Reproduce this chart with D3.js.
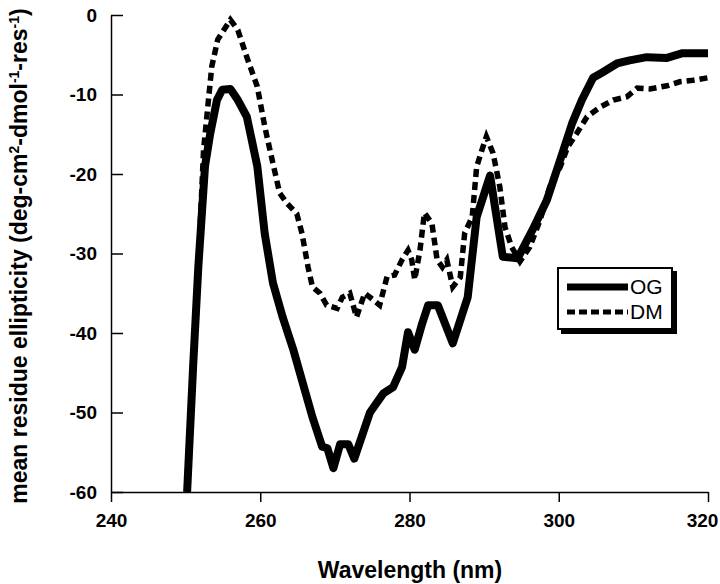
<!DOCTYPE html>
<html>
<head>
<meta charset="utf-8">
<script src="https://cdn.jsdelivr.net/npm/d3@7"></script>
<style>
    body { margin: 0; background: #fff; }
    svg text { font-family: 'Liberation Sans', Arial, sans-serif; fill: #000; }
</style>
</head>
<body>
<div id="chart"></div>
<script>
// values
const ogWavelength = [250.2, 251, 251.7, 252.6, 253.3, 254.2, 254.9, 256, 257, 258.2, 259.6, 260.6, 261.7, 263, 264.4, 265.7, 267, 268.3, 269, 269.8, 270.7, 271.8, 272.6, 274.7, 276.5, 277.8, 279, 279.8, 280.7, 281.7, 282.5, 283.8, 285.8, 287.8, 288.5, 289, 290.8, 292.5, 294.5, 296.5, 298.4, 300.2, 301.8, 303.1, 304.6, 305.9, 307.8, 309.5, 311.8, 314.5, 316.6, 320]
const ogEllipticity = [-60, -44.3, -31.7, -19, -14.9, -10.7, -9.4, -9.3, -10.7, -12.8, -19, -27.5, -33.7, -38, -42, -46.3, -50.6, -54.3, -54.5, -57, -54, -54, -55.8, -50, -47.6, -46.8, -44.3, -39.9, -42.1, -38.8, -36.5, -36.5, -41.3, -35.5, -29.6, -25.4, -20.2, -30.4, -30.6, -27, -23.3, -18.2, -13.6, -10.7, -7.9, -7.2, -6.1, -5.7, -5.3, -5.4, -4.8, -4.8]

const dmWavelength = [251.5, 252.4, 253.5, 254.3, 256, 257, 258.2, 259.6, 260.6, 261.3, 262, 262.6, 263.6, 264.9, 265.6, 266.4, 267, 268, 268.9, 270.3, 271, 272, 272.9, 274, 275.1, 276, 277, 278, 279, 279.8, 280.3, 280.7, 281.4, 282, 283, 283.7, 284.4, 285, 285.8, 286.8, 287.4, 288.4, 289, 289.7, 290.3, 291.2, 292.1, 292.8, 293.7, 294.8, 296.1, 297.5, 298.8, 300.2, 301.2, 302.4, 303.8, 305.5, 307.3, 309.1, 310.5, 312.2, 314.5, 316.2, 318, 320]
const dmEllipticity = [-36, -17, -6.5, -3.1, -0.6, -1.9, -5.3, -9, -14, -17, -19.9, -22.4, -23.7, -25, -27.5, -31.7, -34.2, -35, -36.5, -36.9, -35.5, -35, -38, -35, -35.8, -36.5, -32.9, -32.7, -30.8, -29.6, -30.8, -33.3, -29.6, -24.9, -26.2, -30.8, -31.7, -30.8, -34.2, -33, -27.4, -25.4, -19.1, -17, -15.3, -17.4, -21.6, -26.7, -29.2, -31, -29.2, -25.8, -21.6, -19.1, -16.6, -14.9, -12.8, -11.6, -10.7, -10.3, -9.2, -9.3, -8.9, -8.4, -8.2, -7.9]

const xTicks = [240, 260, 280, 300, 320]
const yTicks = [0, -10, -20, -30, -40, -50, -60]
const seriesNames = ['OG', 'DM']

const width = 720, height = 584
const plot = { left: 111, right: 708, top: 15, bottom: 492 }

const svg = d3.select('#chart')
    .append('svg')
        .attr('width', width)
        .attr('height', height)

const x = d3.scaleLinear()
    .domain([240, 320])
    .range([plot.left, plot.right])

const y = d3.scaleLinear()
    .domain([-60, 0])
    .range([plot.bottom, plot.top])

// axes (plain hyphen for negatives, like the original)
const xAxis = svg.append('g')
    .attr('transform', 'translate(0,' + plot.bottom + ')')
    .call(d3.axisBottom(x).tickValues(xTicks).tickFormat(d => String(d))
        .tickSizeInner(10).tickSizeOuter(0).tickPadding(12))
const yAxis = svg.append('g')
    .attr('transform', 'translate(' + plot.left + ',0)')
    .call(d3.axisLeft(y).tickValues(yTicks).tickFormat(d => String(d))
        .tickSizeInner(-12).tickSizeOuter(0).tickPadding(14))

;[xAxis, yAxis].forEach(g => {
    g.select('.domain').attr('stroke', '#000').attr('stroke-width', 1.5)
    g.selectAll('.tick line').attr('stroke', '#000').attr('stroke-width', 1.5)
    g.selectAll('.tick text')
        .style('font-size', '19px')
        .style('font-weight', 'bold')
})
// last label sits against the right edge
xAxis.selectAll('.tick text').filter(d => d === 320).attr('dx', -6)

// curves
const line = d3.line()
    .x(d => x(d[0]))
    .y(d => y(d[1]))

svg.append('path')
    .datum(dmWavelength.map((w, i) => [w, dmEllipticity[i]]))
    .attr('d', line)
    .attr('fill', 'none')
    .attr('stroke', '#000')
    .attr('stroke-width', 5.5)
    .attr('stroke-dasharray', '8,5')

svg.append('path')
    .datum(ogWavelength.map((w, i) => [w, ogEllipticity[i]]))
    .attr('d', line)
    .attr('fill', 'none')
    .attr('stroke', '#000')
    .attr('stroke-width', 8)
    .attr('stroke-linejoin', 'round')

// axis titles
svg.append('text')
    .attr('x', 410)
    .attr('y', 578)
    .attr('text-anchor', 'middle')
    .style('font-size', '23px')
    .style('font-weight', 'bold')
    .text('Wavelength (nm)')

const yTitle = svg.append('text')
    .attr('transform', 'translate(27,256) rotate(-90)')
    .attr('text-anchor', 'middle')
    .style('font-size', '23px')
    .style('font-weight', 'bold')
const parts = [['mean residue ellipticity (deg-cm', false], ['2', true], ['-dmol', false], ['-1', true], ['-res', false], ['-1', true], [')', false]]
parts.forEach(p => {
    yTitle.append('tspan')
        .attr('baseline-shift', p[1] ? 'super' : 'baseline')
        .style('font-size', p[1] ? '14px' : '23px')
        .text(p[0])
})

// legend
const legend = svg.append('g').attr('transform', 'translate(557,267)')
legend.append('rect')
    .attr('x', 4).attr('y', 4)
    .attr('width', 116).attr('height', 63)
    .attr('fill', '#000')
legend.append('rect')
    .attr('x', 1).attr('y', 1)
    .attr('width', 114).attr('height', 61)
    .attr('fill', '#fff')
    .attr('stroke', '#000')
    .attr('stroke-width', 2)

seriesNames.forEach((name, i) => {
    const ly = 20 + i * 25
    legend.append('line')
        .attr('x1', 10).attr('x2', 71)
        .attr('y1', ly).attr('y2', ly)
        .attr('stroke', '#000')
        .attr('stroke-width', i === 0 ? 7 : 5)
        .attr('stroke-dasharray', i === 0 ? null : '8,4')
    legend.append('text')
        .attr('x', 73)
        .attr('y', ly + 7)
        .style('font-size', '21px')
        .text(name)
})
</script>
</body>
</html>
